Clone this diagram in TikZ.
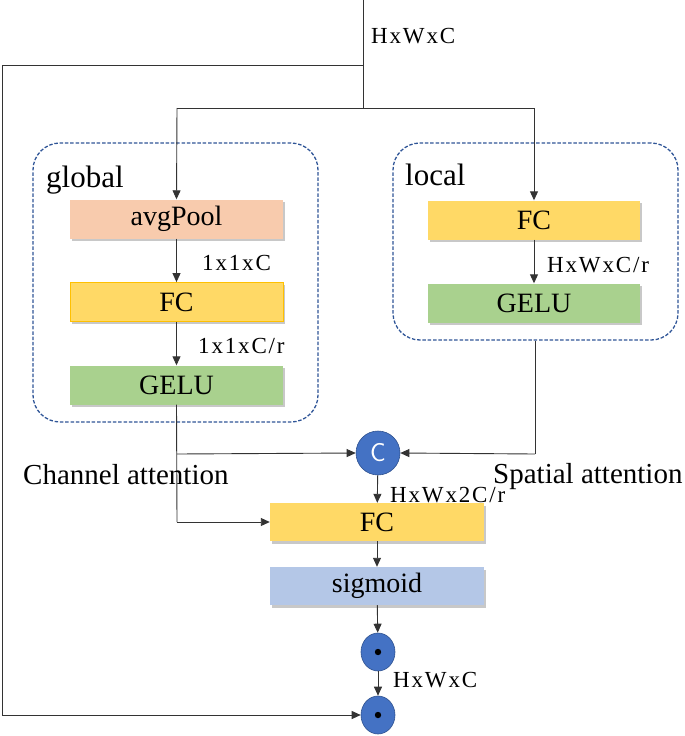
\documentclass[tikz,border=0pt]{standalone}
\usepackage{fontspec}
\setmainfont{Liberation Serif}
\newfontfamily\boxfont{Liberation Serif}
\newfontfamily\dimfont[LetterSpace=8]{Liberation Serif}
\usetikzlibrary{arrows.meta,shapes.geometric}
\definecolor{pinkf}{HTML}{F8CBAD}
\definecolor{goldf}{HTML}{FFD966}
\definecolor{goldb}{HTML}{FFC000}
\definecolor{greenf}{HTML}{A9D18E}
\definecolor{bluef}{HTML}{B4C7E7}
\definecolor{circf}{HTML}{4472C4}
\definecolor{circb}{HTML}{2F528F}
\definecolor{dashb}{HTML}{2F5597}
\definecolor{linec}{HTML}{333333}
\definecolor{shadc}{HTML}{C8C8C8}
\tikzset{
  blk/.style={minimum width=213pt,minimum height=39pt,inner sep=0pt,
    font=\boxfont\fontsize{28}{30}\selectfont,
    preaction={draw=none,fill=shadc,transform canvas={shift={(2pt,-2.5pt)}}}},
  grp/.style={draw=dashb,line width=1.3pt,dash pattern=on 3.5pt off 1.8pt,rounded corners=27pt,inner sep=0pt},
  dimlab/.style={anchor=base west,inner sep=0pt,font=\dimfont\fontsize{23}{25}\selectfont},
  biglab/.style={anchor=base west,inner sep=0pt,font=\boxfont\fontsize{29}{31}\selectfont},
  conn/.style={draw=linec,line width=0.9pt},
  arr/.style={conn,-{Triangle[length=9pt,width=8pt]}},
  dotc/.style={ellipse,fill=circf,draw=circb,line width=0.6pt,minimum width=34pt,minimum height=38pt,inner sep=0pt}
}
\begin{document}
\begin{tikzpicture}[x=1pt,y=-1pt]
\useasboundingbox (0,0) rectangle (685,736);
% groups
\node[grp,minimum width=285pt,minimum height=279pt] (gbox) at (175.5,282.5) {};
\node[grp,minimum width=285pt,minimum height=197pt] (lbox) at (535.5,241.5) {};
% blocks
\node[blk,fill=pinkf] (avg) at (176.5,219) {avgPool};
\node[blk,fill=goldf,draw=goldb,line width=0.8pt] (gfc) at (176.5,302) {FC};
\node[blk,fill=greenf] (ggelu) at (176.5,385) {GELU};
\node[blk,fill=goldf,minimum width=212pt] (lfc) at (534,220) {FC};
\node[blk,fill=greenf,minimum width=212pt] (lgelu) at (534,303) {GELU};
\node[blk,fill=goldf,minimum width=214pt,minimum height=38pt] (fc) at (377,522) {FC};
\node[blk,fill=bluef,minimum width=214pt,minimum height=38pt] (sig) at (377,586) {sigmoid};
% circles
\node[circle,fill=circf,draw=circb,line width=0.6pt,minimum size=44pt,inner sep=0pt,text=white,font=\sffamily\fontsize{26}{28}\selectfont] (cat) at (378,453) {C};
\node[dotc] (m1) at (378,652) {};
\node[dotc] (m2) at (378,715) {};
\fill (m1.center) circle (3.2pt);
\fill (m2.center) circle (3.2pt);
% coordinates
\coordinate (top) at (363,0);
\coordinate (j1) at (363,65);
\coordinate (j2) at (363,108);
\coordinate (jl) at (177,108);
\coordinate (jr) at (534,108);
\coordinate (lft) at (2,65);
\coordinate (lfb) at (2,715);
\coordinate (gdown) at (177,454);
\coordinate (gfcin) at (177,522);
\coordinate (ldown) at (535,454);
% connectors
\draw[conn] (top) -- (j2);
\draw[conn] (jl) -- (jr);
\draw[arr] (jl) -- (avg.north);
\draw[arr] (jr) -- (lfc.north);
\draw[arr] (avg) -- (gfc);
\draw[arr] (gfc) -- (ggelu);
\draw[arr] (lfc) -- (lgelu);
\draw[conn] (ggelu.south) -- (gfcin);
\draw[arr] (gfcin) -- (fc.west);
\draw[arr] (gdown) -- (cat.west);
\draw[conn] (lbox.south -| ldown) -- (ldown);
\draw[arr] (ldown) -- (cat.east);
\draw[arr] (cat) -- (fc);
\draw[arr] (fc) -- (sig);
\draw[arr] (sig) -- (m1);
\draw[arr] (m1) -- (m2);
\draw[conn] (j1) -- (lft) -- (lfb);
\draw[arr] (lfb) -- (m2.west);
% labels
\node[dimlab] (l0) at (371,43) {HxWxC};
\node[dimlab] (l1) at (202,270) {1x1xC};
\node[dimlab] (l2) at (198,353) {1x1xC/r};
\node[dimlab] (l3) at (547,272) {HxWxC/r};
\node[dimlab] (l4) at (390,502) {HxWx2C/r};
\node[dimlab] (l5) at (393,687) {HxWxC};
\node[biglab,font=\boxfont\fontsize{31}{33}\selectfont] (tg) at (46,187) {global};
\node[biglab,font=\boxfont\fontsize{31}{33}\selectfont] (tl) at (405,185) {local};
\node[biglab] (tc) at (23,484) {Channel attention};
\node[biglab] (ts) at (493,483) {Spatial attention};
\end{tikzpicture}
\end{document}
